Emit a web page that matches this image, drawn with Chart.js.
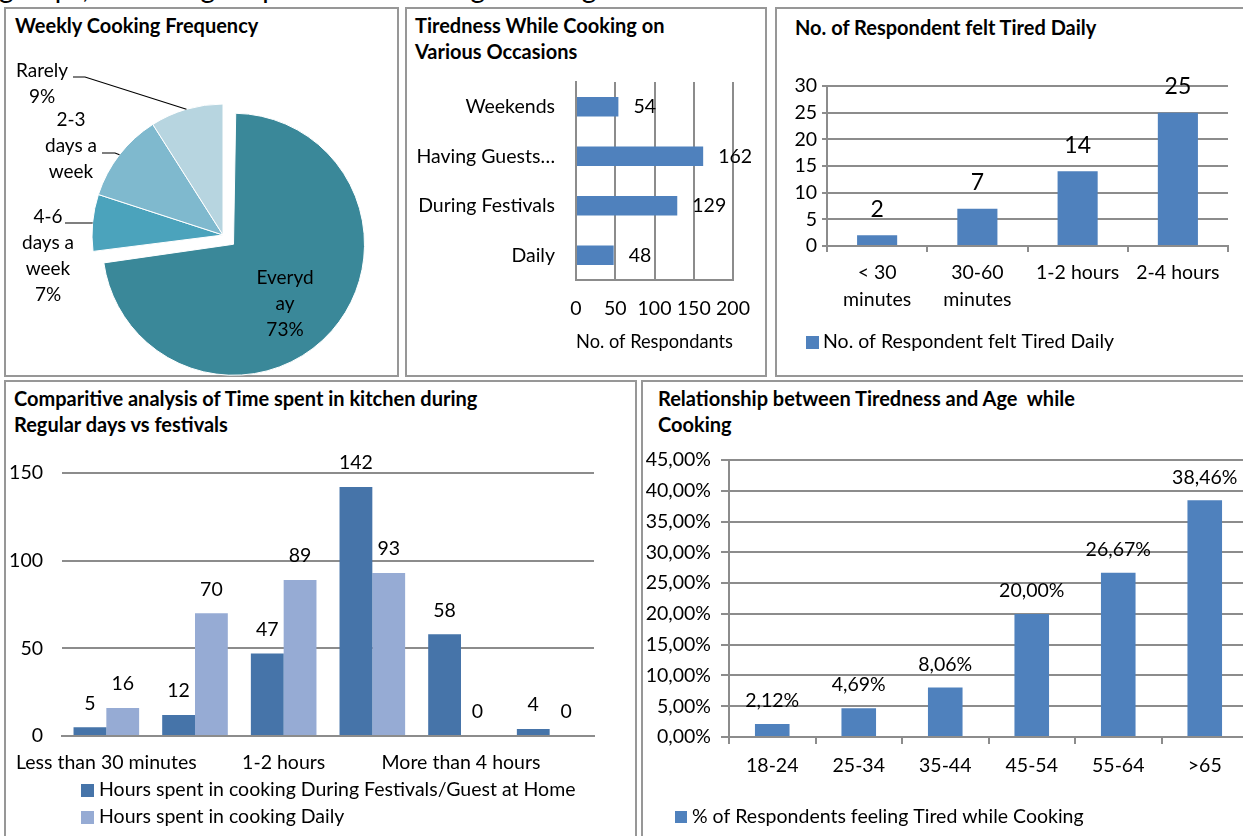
<!DOCTYPE html>
<html><head><meta charset="utf-8">
<script src="https://cdn.jsdelivr.net/npm/chart.js@4.4.1/dist/chart.umd.min.js"></script>
<style>
html,body{margin:0;padding:0;background:#fff;overflow:hidden;width:1243px;height:836px;}
body{position:relative;font-family:Lato,'Open Sans',sans-serif;color:#000;}
.panel{position:absolute;border:2px solid #979797;box-sizing:border-box;background:#fff;}
.title{position:absolute;font-weight:bold;font-size:20px;line-height:26px;white-space:nowrap;}
canvas{position:absolute;}
.intro{position:absolute;left:-1px;top:-27px;font-size:28px;line-height:28px;white-space:nowrap;}
</style></head><body>
<div class="intro">groups, with a higher prevalence among those aged 45 and above.</div>
<div class="panel" style="left:4px;top:7px;width:395px;height:370px"></div>
<div class="panel" style="left:405px;top:7px;width:362px;height:370px"></div>
<div class="panel" style="left:775px;top:7px;width:480px;height:370px"></div>
<div class="panel" style="left:4px;top:380px;width:633px;height:470px"></div>
<div class="panel" style="left:641px;top:380px;width:620px;height:470px"></div>

<div class="title" style="left:15px;top:12px">Weekly Cooking Frequency</div>
<div class="title" style="left:415px;top:12px">Tiredness While Cooking on<br>Various Occasions</div>
<div class="title" style="left:795px;top:14px">No. of Respondent felt Tired Daily</div>
<div class="title" style="left:14px;top:385px">Comparitive analysis of Time spent in kitchen during<br>Regular days vs festivals</div>
<div class="title" style="left:658px;top:385px">Relationship between Tiredness and Age&nbsp; while<br>Cooking</div>

<canvas id="c1" width="395" height="370" style="left:4px;top:7px"></canvas>
<canvas id="c2" width="362" height="370" style="left:405px;top:7px"></canvas>
<canvas id="c3" width="468" height="370" style="left:775px;top:7px"></canvas>
<canvas id="c4" width="633" height="456" style="left:4px;top:380px"></canvas>
<canvas id="c5" width="620" height="456" style="left:641px;top:380px"></canvas>

<script>
// ---------- data ----------
const freqLabels = ['Everyday', '4-6 days a week', '2-3 days a week', 'Rarely'];
const freqValues = [73, 7, 11, 9];

const occasionLabels = ['Weekends', 'Having Guests\u2026', 'During Festivals', 'Daily'];
const occasionValues = [54, 162, 129, 48];

const tiredDurationLabels = [['< 30', 'minutes'], ['30-60', 'minutes'], '1-2 hours', '2-4 hours'];
const tiredDailyValues = [2, 7, 14, 25];

const kitchenLabels = ['Less than 30 minutes', '30-60 minutes', '1-2 hours', '2-4 hours', 'More than 4 hours', 'Whole day'];
const festivalHours = [5, 12, 47, 142, 58, 4];
const dailyHours = [16, 70, 89, 93, 0, 0];

const ageLabels = ['18-24', '25-34', '35-44', '45-54', '55-64', '>65'];
const tiredAgePct = [2.12, 4.69, 8.06, 20.00, 26.67, 38.46];

// ---------- styling ----------
const FONT = "Lato, 'Open Sans', sans-serif";
const GRID = '#8c8c8c';
const BLUE = '#4F81BD';
const FS = 19.5;
const pct = v => Number(v).toFixed(2).replace('.', ',') + '%';

function valueLabels(o) {
  return {
    id: 'valueLabels',
    afterDatasetsDraw(chart) {
      const ctx = chart.ctx;
      ctx.save();
      ctx.font = o.size + 'px ' + FONT;
      ctx.fillStyle = '#000';
      ctx.textBaseline = 'middle';
      const horiz = chart.options.indexAxis === 'y';
      chart.data.datasets.forEach((ds, di) => {
        chart.getDatasetMeta(di).data.forEach((el, i) => {
          const t = o.format ? o.format(ds.data[i]) : String(ds.data[i]);
          if (horiz) { ctx.textAlign = 'left'; ctx.fillText(t, el.x + o.offset, el.y); }
          else { ctx.textAlign = 'center'; ctx.fillText(t, el.x, el.y - o.offset); }
        });
      });
      ctx.restore();
    }
  };
}

function boxLegend(o) {
  return {
    id: 'boxLegend',
    afterDraw(chart) {
      const ctx = chart.ctx;
      ctx.save();
      ctx.font = (o.size || FS) + 'px ' + FONT;
      ctx.textBaseline = 'middle';
      ctx.textAlign = 'left';
      chart.data.datasets.forEach((ds, i) => {
        const y = o.y + i * o.rowH;
        ctx.fillStyle = ds.backgroundColor;
        ctx.fillRect(o.x, Math.round(y - o.box / 2), o.box, o.box);
        ctx.fillStyle = '#000';
        ctx.fillText(ds.label, o.x + o.box + o.gap, y);
      });
      ctx.restore();
    }
  };
}

// keep exploded slice at the same radius as the others
const explodeFix = {
  id: 'explodeFix',
  afterDatasetsUpdate(chart) {
    chart.getDatasetMeta(0).data.forEach(el => {
      const o = (el.options.offset || 0) / 4;
      const circ = el.endAngle - el.startAngle;
      el.outerRadius -= o * (1 - Math.sin(Math.min(Math.PI, circ)));
    });
  }
};

// label layout (relative to pie centre), text split as in the original
const pieLabelLayout = [
  { lines: ['Everyd', 'ay'], showPct: true, dx: 62, dy: 43 },
  { lines: ['4-6', 'days a', 'week'], showPct: true, dx: -175, dy: -18, elbow: [-131, -12], end: [-158, -12] },
  { lines: ['2-3', 'days a', 'week'], showPct: false, dx: -152, dy: -115, elbow: [-108, -82], end: [-121, -82] },
  { lines: ['Rarely'], showPct: true, dx: -181, dy: -164, elbow: [-138, -158], end: [-150, -158] }
];
const pieLabels = {
  id: 'pieLabels',
  afterDatasetsDraw(chart) {
    const ctx = chart.ctx;
    const meta = chart.getDatasetMeta(0);
    const data = chart.data.datasets[0].data;
    const total = data.reduce((a, b) => a + b, 0);
    ctx.save();
    ctx.font = '19px ' + FONT;
    ctx.fillStyle = '#000';
    ctx.strokeStyle = '#000';
    ctx.lineWidth = 1.2;
    ctx.textAlign = 'center';
    ctx.textBaseline = 'middle';
    meta.data.forEach((el, i) => {
      const L = pieLabelLayout[i];
      const cx = el.x, cy = el.y;
      const lines = L.lines.slice();
      if (L.showPct) lines.push(Math.round(data[i] / total * 100) + '%');
      lines.forEach((t, k) => ctx.fillText(t, cx + L.dx, cy + L.dy + k * 26));
      if (L.elbow) {
        const mid = (el.startAngle + el.endAngle) / 2;
        const r = 131;
        ctx.beginPath();
        ctx.moveTo(cx + Math.cos(mid) * r, cy + Math.sin(mid) * r);
        ctx.lineTo(cx + L.elbow[0], cy + L.elbow[1]);
        ctx.lineTo(cx + L.end[0], cy + L.end[1]);
        ctx.stroke();
      }
    });
    ctx.restore();
  }
};

// fixed axis box sizes, no label overhang padding
function fixBox(w, h) {
  return function (s) {
    if (w != null) s.width = w;
    if (h != null) s.height = h;
    s.paddingLeft = 0; s.paddingRight = 0; s.paddingTop = 0; s.paddingBottom = 0;
  };
}

function build() {
  Chart.defaults.font.family = FONT;
  Chart.defaults.font.size = FS;
  Chart.defaults.color = '#000';
  const common = { responsive: false, animation: false, events: [] };
  const noPlug = { legend: { display: false }, tooltip: { enabled: false } };
  const tickFont = { size: FS, lineHeight: 1.35 };

  // 1. pie
  new Chart(document.getElementById('c1'), {
    type: 'pie',
    data: { labels: freqLabels, datasets: [{
      data: freqValues,
      backgroundColor: ['#3A8899', '#4BA3BC', '#7FB9CE', '#B7D5E0'],
      borderColor: '#ffffff', borderWidth: 1,
      offset: [56, 0, 0, 0], hoverOffset: 0
    }]},
    options: Object.assign({}, common, {
      radius: 131,
      layout: { padding: { left: 79, right: 36, top: 88, bottom: 2 } },
      plugins: noPlug
    }),
    plugins: [explodeFix, pieLabels]
  });

  // 2. horizontal bars
  new Chart(document.getElementById('c2'), {
    type: 'bar',
    data: { labels: occasionLabels, datasets: [{
      label: 'No. of Respondants', data: occasionValues, backgroundColor: BLUE,
      barPercentage: 0.39, categoryPercentage: 1
    }]},
    options: Object.assign({}, common, {
      indexAxis: 'y',
      layout: { padding: { left: 0, right: 34, top: 75, bottom: 0 } },
      scales: {
        y: { grid: { display: false, drawTicks: false }, border: { display: true, color: GRID, width: 2 },
             ticks: { padding: 21, font: tickFont }, afterFit: fixBox(171, null) },
        x: { min: 0, max: 200,
             ticks: { stepSize: 50, padding: 16, font: tickFont, maxRotation: 0, minRotation: 0, autoSkip: false },
             grid: { color: GRID, lineWidth: 2, drawTicks: false },
             border: { display: true, color: GRID, width: 2 },
             title: { display: true, text: 'No. of Respondants', font: tickFont, padding: { top: 0, bottom: 22 } },
             afterFit: fixBox(null, 97) }
      },
      plugins: noPlug
    }),
    plugins: [valueLabels({ offset: 15, size: FS })]
  });

  // 3. tired daily
  new Chart(document.getElementById('c3'), {
    type: 'bar',
    data: { labels: tiredDurationLabels, datasets: [{
      label: 'No. of Respondent felt Tired Daily', data: tiredDailyValues, backgroundColor: BLUE,
      barPercentage: 0.4, categoryPercentage: 1
    }]},
    options: Object.assign({}, common, {
      layout: { padding: { left: 0, right: 15, top: 79, bottom: 0 } },
      scales: {
        y: { min: 0, max: 30, ticks: { stepSize: 5, padding: 5, font: tickFont, autoSkip: false },
             grid: { color: GRID, lineWidth: 2, tickLength: 5 },
             border: { display: true, color: GRID, width: 2 }, afterFit: fixBox(52, null) },
        x: { grid: { drawOnChartArea: false, tickLength: 6, color: GRID, lineWidth: 2 },
             border: { display: true, color: GRID, width: 2 },
             ticks: { padding: 8, font: tickFont, maxRotation: 0, autoSkip: false },
             afterFit: fixBox(null, 131) }
      },
      plugins: noPlug
    }),
    plugins: [valueLabels({ offset: 26, size: 23 }), boxLegend({ x: 31, y: 335, box: 13, gap: 4, rowH: 27 })]
  });

  // 4. grouped bars
  new Chart(document.getElementById('c4'), {
    type: 'bar',
    data: { labels: kitchenLabels, datasets: [
      { label: 'Hours spent in cooking During Festivals/Guest at Home', data: festivalHours,
        backgroundColor: '#4674A9', categoryPercentage: 0.74, barPercentage: 1 },
      { label: 'Hours spent in cooking Daily', data: dailyHours,
        backgroundColor: '#96ABD4', categoryPercentage: 0.74, barPercentage: 1 }
    ]},
    options: Object.assign({}, common, {
      layout: { padding: { left: 0, right: 43, top: 93, bottom: 0 } },
      scales: {
        y: { min: 0, max: 150, ticks: { stepSize: 50, padding: 19, font: tickFont, autoSkip: false },
             grid: { color: GRID, lineWidth: 2, drawTicks: false },
             border: { display: false }, afterFit: fixBox(58, null) },
        x: { grid: { display: false, drawTicks: false }, border: { display: true, color: GRID, width: 2 },
             ticks: { padding: 14, font: tickFont, maxRotation: 0, autoSkip: false,
                      callback(v, i) { return i % 2 === 0 ? kitchenLabels[i] : ''; } },
             afterFit: fixBox(null, 100) }
      },
      plugins: noPlug
    }),
    plugins: [valueLabels({ offset: 24, size: FS }), boxLegend({ x: 77, y: 410, box: 13, gap: 5, rowH: 27 })]
  });

  // 5. age
  new Chart(document.getElementById('c5'), {
    type: 'bar',
    data: { labels: ageLabels, datasets: [{
      label: '% of Respondents feeling Tired while Cooking', data: tiredAgePct, backgroundColor: BLUE,
      barPercentage: 0.4, categoryPercentage: 1
    }]},
    options: Object.assign({}, common, {
      layout: { padding: { left: 0, right: 13, top: 80, bottom: 0 } },
      scales: {
        y: { min: 0, max: 45, ticks: { stepSize: 5, padding: 10, font: tickFont, autoSkip: false, callback: v => pct(v) },
             grid: { color: GRID, lineWidth: 2, tickLength: 8 },
             border: { display: true, color: GRID, width: 2 }, afterFit: fixBox(88, null) },
        x: { grid: { drawOnChartArea: false, tickLength: 7, color: GRID, lineWidth: 2 },
             border: { display: true, color: GRID, width: 2 },
             ticks: { padding: 9, font: tickFont, maxRotation: 0, autoSkip: false },
             afterFit: fixBox(null, 99) }
      },
      plugins: noPlug
    }),
    plugins: [valueLabels({ offset: 23, size: FS, format: pct }), boxLegend({ x: 34, y: 437, box: 12, gap: 5, rowH: 27 })]
  });
}

Promise.all([
  document.fonts.load('19px Lato'), document.fonts.load('bold 20px Lato'), document.fonts.load('23px Lato')
]).catch(() => {}).then(build);
</script>
</body></html>
